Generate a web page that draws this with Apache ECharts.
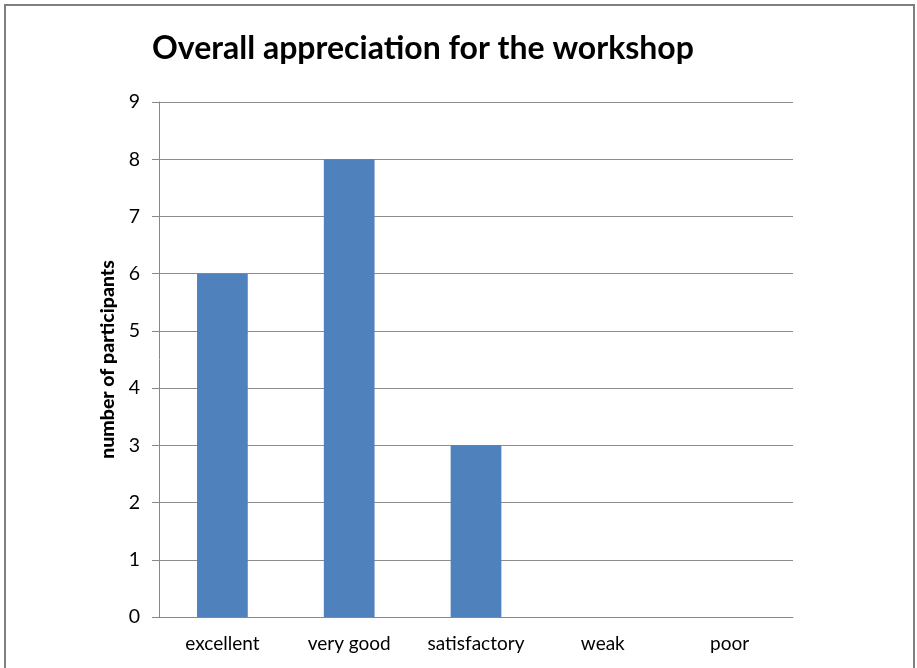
<!DOCTYPE html>
<html>
<head>
<meta charset="utf-8">
<script src="https://cdn.jsdelivr.net/npm/echarts@6/dist/echarts.min.js"></script>
<style>
  html, body { margin: 0; padding: 0; background: #fff; }
  #chart { width: 917px; height: 668px; }
</style>
</head>
<body>
<div id="chart"></div>
<script>
// chart data
const categories = ["excellent", "very good", "satisfactory", "weak", "poor"];
const participants = [6, 8, 3, 0, 0];
const yTicks = { min: 0, max: 9, interval: 1 };

const font = "Lato, 'Open Sans', sans-serif";
const myChart = echarts.init(document.getElementById("chart"));

myChart.setOption({
  animation: false,
  title: {
    text: "Overall appreciation for the workshop",
    left: 147,
    top: 28,
    textStyle: { fontFamily: font, fontSize: 32, fontWeight: "bold", color: "#000" },
  },
  graphic: [
    {
      type: "rect",
      shape: { x: 5, y: 5, width: 909, height: 680 },
      style: { fill: "none", stroke: "#7f7f7f", lineWidth: 2 },
    },
  ],
  grid: { left: 159, right: 124, top: 102, bottom: 51 },
  xAxis: {
    type: "category",
    data: categories,
    axisLine: { lineStyle: { color: "#888" } },
    axisTick: { length: 7, lineStyle: { color: "#888" } },
    axisLabel: {
      interval: 0,
      hideOverlap: false,
      fontFamily: font,
      fontSize: 19,
      color: "#000",
      margin: 17,
    },
  },
  yAxis: {
    type: "value",
    min: yTicks.min,
    max: yTicks.max,
    interval: yTicks.interval,
    name: "number of participants",
    nameLocation: "middle",
    nameGap: 40,
    nameTextStyle: { fontFamily: font, fontSize: 19.5, fontWeight: 900, color: "#000" },
    axisLine: { show: true, lineStyle: { color: "#888" } },
    axisTick: { show: true, length: 7, lineStyle: { color: "#888" } },
    axisLabel: { fontFamily: font, fontSize: 19.5, color: "#000", margin: 19 },
    splitLine: { lineStyle: { color: "#8c8c8c" } },
  },
  series: [
    {
      type: "bar",
      data: participants,
      barWidth: "40%",
      itemStyle: { color: "#4f81bd" },
    },
  ],
});
</script>
</body>
</html>
